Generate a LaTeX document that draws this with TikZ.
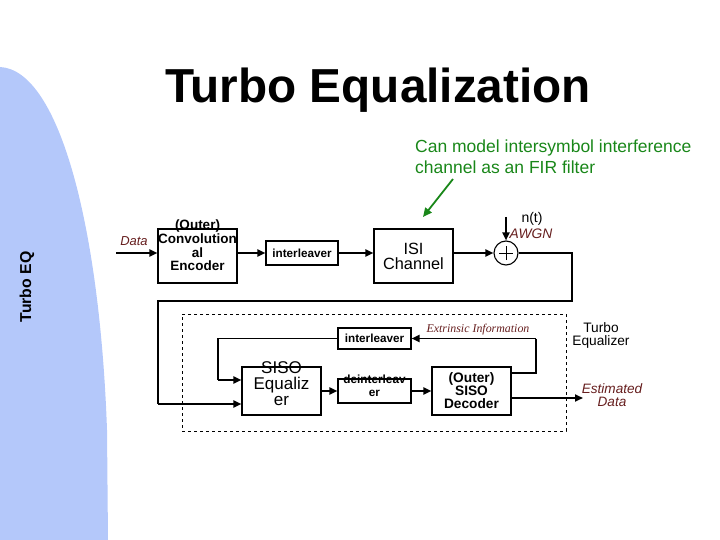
\documentclass[tikz,border=0pt]{standalone}
\usepackage{fontspec}
\setmainfont{Liberation Sans}
\newfontfamily\serifit{Liberation Serif}
\usetikzlibrary{arrows.meta}
\definecolor{sidebl}{RGB}{180,200,250}
\definecolor{dred}{RGB}{102,30,30}
\definecolor{dgreen}{RGB}{25,135,25}
\tikzset{
  blk/.style={draw=black,line width=1.1pt,rectangle,inner sep=0pt},
  conn/.style={line width=1.8pt},
  arr/.style={conn,-{Triangle[length=8pt,width=7pt]}},
  thinconn/.style={line width=1.1pt},
  lbl/.style={inner sep=0pt,align=center},
}
\newcommand{\fsz}[2]{\fontsize{#1}{#2}\selectfont}
\begin{document}
\begin{tikzpicture}[x=1pt,y=-1pt]
\useasboundingbox (0,0) rectangle (720,540);
% side shape
\fill[sidebl] (0,67) .. controls (60,70) and (100,230) .. (107,430) -- (108,540) -- (0,540) -- cycle;
\node[lbl,rotate=90,font=\fsz{15.8}{16}\bfseries] (side) at (27,287) {Turbo EQ};
% title
\node[lbl,font=\fsz{47.7}{48}\bfseries] (title) at (378,90) {Turbo Equalization};
% green note
\node[lbl,align=left,anchor=west,text=dgreen,font=\fsz{17.5}{21}] (note) at (415,156.5) {Can model intersymbol interference\\channel as an FIR filter};
\coordinate (gs) at (453,179);
\coordinate (ge) at (423,217);
\draw[dgreen,line width=1.8pt,-{Triangle[length=9pt,width=8pt]}] (gs) -- (ge);
% blocks
\node[blk,minimum width=79pt,minimum height=54pt] (enc) at (197.5,256) {};
\node[lbl,font=\fsz{13.5}{13.7}\bfseries] (enct) at (197.5,245.5) {(Outer)\\Convolution\\al\\Encoder};
\node[blk,minimum width=72pt,minimum height=24pt,font=\fsz{11.7}{12}\bfseries] (il1) at (302,253) {interleaver};
\node[blk,minimum width=79pt,minimum height=54pt] (isi) at (413.5,256) {};
\node[lbl,font=\fsz{16.3}{15}] (isit) at (413.5,256.5) {ISI\\Channel};
\node[draw=black,line width=1.1pt,circle,minimum size=24pt,inner sep=0pt] (add) at (506,253) {};
\draw[line width=0.9pt] ([xshift=-7pt]add.center) -- ([xshift=7pt]add.center) ([yshift=-7pt]add.center) -- ([yshift=7pt]add.center);
\node[lbl,font=\fsz{14}{14}] (nt) at (532,219) {n(t)};
\node[lbl,text=dred,font=\fsz{13.8}{14}\itshape] (awgn) at (531,234) {AWGN};
\node[lbl,text=dred,font=\fsz{13}{13}\itshape] (data) at (134,241) {Data};
% turbo equalizer region
\node[draw=black,dashed,line width=0.8pt,minimum width=384pt,minimum height=117pt,inner sep=0pt] (tebox) at (374,372.5) {};
\node[blk,minimum width=73pt,minimum height=21pt,font=\fsz{11.7}{12}\bfseries] (il2) at (374.5,338.5) {interleaver};
\node[blk,minimum width=79pt,minimum height=48pt] (eq) at (281.5,391) {};
\node[lbl,font=\fsz{17}{16}] (eqt) at (281.5,384) {SISO\\Equaliz\\er};
\node[blk,minimum width=73pt,minimum height=24pt] (dil) at (374.5,391) {};
\node[lbl,font=\fsz{11.8}{13}\bfseries] (dilt) at (374.5,385.5) {deinterleav\\er};
\node[blk,minimum width=79pt,minimum height=48pt] (dec) at (471.5,391) {};
\node[lbl,font=\fsz{13.7}{13}\bfseries] (dect) at (471.5,391) {(Outer)\\SISO\\Decoder};
\node[lbl,text=dred,font=\fsz{11.9}{12}\serifit\itshape] (ext) at (478,330) {Extrinsic Information};
\node[lbl,font=\fsz{13.7}{13}] (tel) at (601,335.5) {Turbo\\Equalizer};
\node[lbl,text=dred,font=\fsz{13.6}{13}\itshape] (est) at (612,395.5) {Estimated\\Data};
% connectors
\coordinate (din) at (116,253);
\draw[arr] (din) -- (enc.west |- din);
\draw[arr] (enc.east |- il1.west) -- (il1.west);
\draw[arr] (il1.east) -- (isi.west |- il1.east);
\draw[arr] (isi.east |- add.west) -- (add.west);
\coordinate (nin) at (506,217);
\draw[arr] (nin) -- (add.north);
\coordinate (f1) at (572,253);
\coordinate (f2) at (572,301);
\coordinate (f3) at (158,301);
\coordinate (f4) at (158,404);
\draw[thinconn] (add.east) -- (f1) -- (f2) -- (f3) -- (f4);
\draw[arr] (f4) -- (eq.west |- f4);
\coordinate (g1) at (218,338.5);
\coordinate (g2) at (218,380);
\draw[thinconn] (il2.west) -- (g1) -- (g2);
\draw[arr] (g2) -- (eq.west |- g2);
\draw[arr] (eq.east |- dil.west) -- (dil.west);
\draw[arr] (dil.east) -- (dec.west |- dil.east);
\coordinate (h0) at (dec.east |- 0,373);
\coordinate (h1) at (536,373);
\coordinate (h2) at (536,338.5);
\draw[thinconn] (h0) -- (h1) -- (h2);
\draw[arr] (h2) -- (il2.east);
\coordinate (o0) at (dec.east |- 0,398);
\coordinate (o1) at (583,398);
\draw[arr] (o0) -- (o1);
\end{tikzpicture}
\end{document}
